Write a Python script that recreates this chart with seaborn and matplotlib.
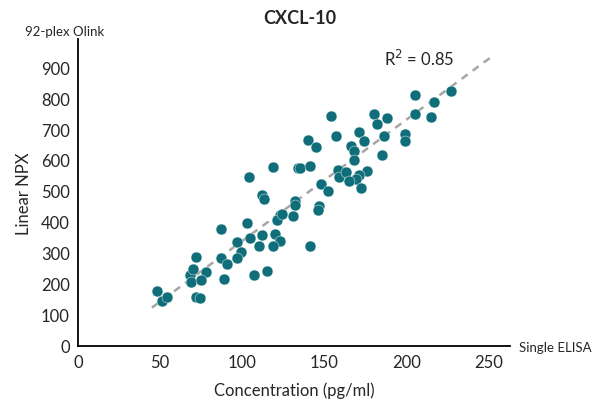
import numpy as np
import pandas as pd
import matplotlib
matplotlib.use("Agg")
import matplotlib.pyplot as plt
import seaborn as sns

# ── Data ───────────────────────────────────────────────────────────────────────
elisa = [48, 51, 54, 72, 68, 70, 69, 78, 75, 72, 74, 87, 87, 91, 89, 97, 99, 97,
         105, 112, 110, 107, 115, 120, 123, 119, 141, 104, 119, 134, 112, 113,
         132, 132, 131, 123, 121, 103, 227, 205, 217, 205, 215, 154, 180, 182,
         188, 157, 171, 174, 186, 199, 199, 140, 145, 166, 168, 168, 185, 135,
         141, 158, 159, 163, 176, 171, 169, 165, 172, 148, 152, 147, 146, 124]
npx = [178, 146, 159, 288, 230, 248, 205, 238, 211, 159, 154, 377, 283, 263, 216,
       334, 302, 283, 347, 358, 322, 230, 243, 361, 340, 322, 322, 546, 578, 573,
       487, 474, 469, 455, 418, 423, 407, 398, 824, 811, 786, 747, 740, 741, 747,
       715, 734, 676, 689, 662, 679, 684, 662, 663, 643, 646, 630, 599, 617, 573,
       580, 569, 546, 560, 566, 553, 539, 533, 508, 521, 500, 452, 437, 426]
r2 = 0.85

df = pd.DataFrame({"elisa": elisa, "npx": npx})

# ── Plot ───────────────────────────────────────────────────────────────────────
sns.set_style("white")
plt.rcParams["font.family"] = ["Lato", "DejaVu Sans"]

fig = plt.figure(figsize=(6, 4.1), dpi=100)
ax = fig.add_axes([0.13, 0.154, 0.72, 0.748])

# trend line from a linear fit of the data
slope, icpt = np.polyfit(df["elisa"], df["npx"], 1)
xs = np.array([45, 252])
ax.plot(xs, slope * xs + icpt, ls=(0, (3, 2.5)), color="#a6a6a6", lw=1.8, zorder=1)

sns.scatterplot(data=df, x="elisa", y="npx", ax=ax, color="#0f6e7a", s=62,
                edgecolor="white", linewidth=0.3, zorder=2, legend=False)

ax.set_xlim(0, 263)
ax.set_ylim(0, 990)
ax.set_xticks(range(0, 251, 50))
ax.set_yticks(range(0, 901, 100))
ax.tick_params(labelsize=12, length=0, pad=6)
for s in ["top", "right"]:
    ax.spines[s].set_visible(False)
for s in ["left", "bottom"]:
    ax.spines[s].set_color("black")
    ax.spines[s].set_linewidth(1.3)

ax.set_xlabel("Concentration (pg/ml)", fontsize=12, labelpad=8)
ax.set_ylabel("Linear NPX", fontsize=12, labelpad=6)
fig.text(0.5, 0.955, "CXCL-10", ha="center", va="center", fontsize=13, fontweight="bold")
fig.text(0.108, 0.922, "92-plex Olink", ha="center", va="center", fontsize=9.5)
fig.text(0.925, 0.152, "Single ELISA", ha="center", va="center", fontsize=9.5)
ax.text(0.79, 0.94, f"R$^2$ = {r2:.2f}", transform=ax.transAxes, ha="center",
        va="center", fontsize=12)

plt.savefig("out.png", dpi=100)
